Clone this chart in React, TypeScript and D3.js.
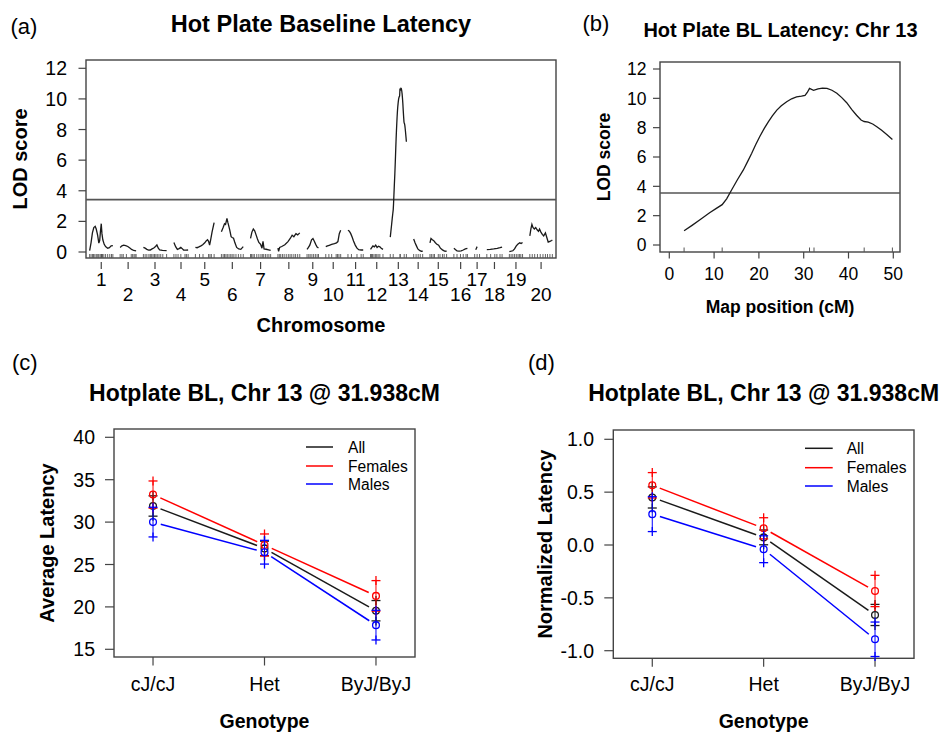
import React from "react";
import * as d3 from "d3";

// ---------------- Panel (a) / (b) data ----------------
const chromosomeNames = ["1","2","3","4","5","6","7","8","9","10","11","12","13","14","15","16","17","18","19","20"];
const chrLengthsCM = [67, 46, 67, 41, 54, 63, 58, 63, 33, 43, 44, 36, 46.5, 26, 48, 39, 14, 44, 38, 65];
const chrFirstPosCM = [0,0,0,0,0,0,0,0,0,0,0,0,3.3,0,0,0,0,0,0,0];
const chrGapCM = 21;
const lodTicks = [0, 2, 4, 6, 8, 10, 12];
const mapPositionTicks = [0, 10, 20, 30, 40, 50];
const genomeThreshold = 3.42;
const chr13Threshold = 3.55;

const chr1Lod = [[0,0.09],[4,0.6],[8,1.25],[12,1.6],[16,1.68],[19,1.5],[23,1.1],[26.5,0.58],[29,0.75],[31,1.3],[33.5,1.85],[35.5,1.2],[38,0.8],[42,0.5],[46,0.35],[52,0.25],[57,0.28],[62,0.4],[67,0.42]];
const chr2Lod = [[0,0.3],[5,0.4],[10,0.45],[16,0.42],[22,0.36],[28,0.26],[33,0.17],[39,0.1],[46,0.08]];
const chr3Lod = [[0,0.3],[5,0.25],[10,0.17],[15,0.12],[20,0.13],[25,0.2],[30,0.26],[35,0.36],[39,0.46],[43,0.25],[47,0.13],[55,0.1],[67,0.09]];
const chr4Lod = [[0,0.62],[5,0.35],[10,0.17],[15,0.22],[20,0.3],[24,0.22],[28,0.13],[35,0.12],[41,0.13]];
const chr5Lod = [[0,0.3],[5,0.28],[10,0.33],[16,0.4],[21,0.47],[27,0.6],[31,0.72],[35,0.8],[38,0.7],[41,0.45],[44,0.8],[48,1.3],[54,1.92]];
const chr6Lod = [[0,1.33],[5,1.6],[9,1.85],[12,1.8],[16,2.2],[19,1.9],[24,1.45],[28,1.0],[31,0.95],[35,0.9],[39,0.6],[44,0.3],[50,0.2],[56,0.17],[63,0.35]];
const chr7Lod = [[0,0.89],[4,1.3],[8,1.5],[12,1.38],[16,1.12],[20,0.85],[24,0.62],[29,0.5],[33,0.25],[36,0.7],[39,0.2],[45,0.18],[52,0.14],[58,0.1]];
const chr8Lod = [[0,0.25],[2,0.05],[5,0.3],[11,0.36],[20,0.47],[29,0.68],[36,0.9],[41,1.1],[46,1.0],[52,1.2],[57,1.12],[63,1.25]];
const chr9Lod = [[0,0.17],[4,0.3],[8,0.45],[13,0.8],[17,0.88],[21,0.7],[25,0.5],[29,0.32],[33,0.26]];
const chr10Lod = [[0,0.35],[5,0.4],[10,0.44],[17,0.5],[25,0.55],[31,0.6],[35,0.68],[39,1.2],[43,1.42]];
const chr11Lod = [[0,1.42],[4,1.36],[8,1.2],[12,0.98],[16,0.72],[21,0.45],[26,0.25],[31,0.15],[38,0.13],[44,0.13]];
const chr12Lod = [[0,0.17],[4,0.3],[7,0.4],[11,0.34],[15,0.45],[19,0.3],[23,0.38],[27,0.34],[31,0.25],[36,0.17]];
const chr13Lod = [[3.3,0.97],[5,1.32],[7,1.75],[9,2.2],[10.5,2.5],[11.8,2.75],[12.8,3.15],[13.9,3.75],[15.2,4.45],[16.5,5.1],[17.5,5.7],[18.4,6.25],[19.3,6.85],[20.2,7.4],[21.2,7.95],[22.1,8.4],[23,8.8],[24,9.2],[25,9.5],[26.2,9.77],[27.3,9.97],[28.4,10.1],[29.5,10.15],[30.3,10.2],[30.8,10.4],[31.3,10.68],[32.2,10.55],[33.2,10.65],[34.2,10.7],[35.2,10.68],[36.3,10.55],[37.4,10.35],[38.5,10.05],[39.6,9.7],[40.7,9.25],[41.8,8.85],[42.8,8.52],[43.5,8.42],[44.4,8.38],[45.4,8.25],[46.4,8.05],[47.4,7.82],[48.6,7.52],[49.8,7.2]];
const chr14Lod = [[0,0.85],[4,0.6],[8,0.4],[12,0.2],[17,0.1],[22,0.05],[26,0.05]];
const chr15Lod = [[0,0.6],[3,0.88],[7,0.8],[11,0.74],[15,0.62],[20,0.5],[25,0.44],[30,0.25],[36,0.14],[42,0.06],[48,0.05]];
const chr16Lod = [[0,0.25],[5,0.15],[9,0.08],[15,0.06],[21,0.08],[27,0.13],[33,0.2],[39,0.24]];
const chr17Lod = [[3,0.15],[5,0.25],[7,0.35]];
const chr18Lod = [[0,0.15],[10,0.17],[20,0.2],[30,0.24],[38,0.28],[44,0.32]];
const chr19Lod = [[0,0.03],[5,0.05],[10,0.08],[15,0.2],[20,0.4],[25,0.52],[30,0.6],[34,0.55],[38,0.62]];
const chr20Lod = [[0,1.05],[3,1.5],[6,1.8],[9,1.6],[13,1.5],[17,1.6],[21,1.45],[25,1.35],[28,1.5],[32,1.3],[36,1.15],[40,1.05],[45,1.25],[49,0.95],[53,0.65],[58,0.7],[63,0.75],[65,0.78]];
const chrLodProfiles = [chr1Lod, chr2Lod, chr3Lod, chr4Lod, chr5Lod, chr6Lod, chr7Lod, chr8Lod, chr9Lod, chr10Lod, chr11Lod, chr12Lod, chr13Lod, chr14Lod, chr15Lod, chr16Lod, chr17Lod, chr18Lod, chr19Lod, chr20Lod];

const chrMarkersCM = [
  [0,4,8,11,15,19,22,26,30,33,34,35,37,41,46,52,58,63,67],
  [0,5,9,18,32,36,40,43,46],
  [0,5,10,16,20,24,28,32,36,40,45,50,56,67],
  [0,6,12,20,32,36,41],
  [0,12,22,38,42,46,54],
  [0,5,9,13,17,22,27,31,36,42,49,56,63],
  [0,3,7,11,18,24,30,34,38,43,48,53,58],
  [0,4,8,13,18,24,30,35,40,46,51,57,63],
  [0,5,9,14,19,24,29,33],
  [0,9,17,30,34,38,43],
  [0,10,26,38,44],
  [0,3,6,10,14,18,22,27,36],
  [3.3,11.8,31.3,32.3,43.5,49.8],
  [0,7,13,19,26],
  [0,4,9,13,24,29,36,41,48],
  [0,9,19,27,35,39],
  [0,7,14],
  [0,11,23,29,38,44],
  [0,5,10,15,20,25,29,33,38],
  [0,7,14,22,30,38,45,51,58,65]
];

// ---------------- Panel (c) / (d) data ----------------
const genotypes = ["cJ/cJ", "Het", "ByJ/ByJ"];
const seriesNames = ["All", "Females", "Males"];
const latencyTicks = [15, 20, 25, 30, 35, 40];
const latencyAllMean = [31.9, 26.9, 19.55];
const latencyAllSE = [1.2, 0.85, 1.2];
const latencyFemaleMean = [33.25, 27.3, 21.3];
const latencyFemaleSE = [1.6, 1.3, 1.8];
const latencyMaleMean = [30.0, 26.45, 17.85];
const latencyMaleSE = [1.75, 1.4, 1.75];
const normTicks = [-1, -0.5, 0, 0.5, 1];
const normAllMean = [0.45, 0.072, -0.662];
const normAllSE = [0.1, 0.07, 0.1];
const normFemaleMean = [0.565, 0.158, -0.435];
const normFemaleSE = [0.12, 0.1, 0.148];
const normMaleMean = [0.292, -0.04, -0.892];
const normMaleSE = [0.165, 0.127, 0.163];

const seriesColors = ["#1a1a1a", "#ff0000", "#0000ff"];
const FONT = "'Liberation Sans', Arial, Helvetica, sans-serif";
const AXIS = "#444";

function EffectPanel(props: any) {
  const { left, right, top, bottom, yDomain, yRange, ticks, fmt, means, ses, title, ylab, tag, tagX, ylabX, tickRight, legLine, legText, legRows } = props;
  const x = d3.scalePoint<string>().domain(genotypes).range([left, right]).padding(0.35);
  const y = d3.scaleLinear().domain(yDomain).range(yRange);
  const cx = (left + right) / 2;
  const cy = (top + bottom) / 2;
  const gap = 8;
  const fs = 19.5;
  return (
    <g>
      <text x={tagX} y={370} fontSize={22}>{tag}</text>
      <text x={cx} y={400.5} textAnchor="middle" fontWeight="bold" fontSize={23}>{title}</text>
      <rect x={left} y={top} width={right - left} height={bottom - top} fill="none" stroke={AXIS} strokeWidth={1.4} />
      {ticks.map((t: number) => (
        <g key={t}>
          <line x1={left - 9} x2={left} y1={y(t)} y2={y(t)} stroke={AXIS} strokeWidth={1.2} />
          <text x={tickRight} y={y(t)} dy="0.36em" textAnchor="end" fontSize={fs}>{fmt(t)}</text>
        </g>
      ))}
      {genotypes.map((g) => (
        <g key={g}>
          <line x1={x(g)} x2={x(g)} y1={bottom} y2={bottom + 8.5} stroke={AXIS} strokeWidth={1.2} />
          <text x={x(g)} y={691} textAnchor="middle" fontSize={fs}>{g}</text>
        </g>
      ))}
      <text x={cx} y={728} textAnchor="middle" fontWeight="bold" fontSize={fs}>Genotype</text>
      <text transform={`translate(${ylabX},${cy}) rotate(-90)`} textAnchor="middle" fontWeight="bold" fontSize={20}>{ylab}</text>
      {seriesNames.map((s, si) => {
        const col = seriesColors[si];
        const m = means[si];
        const se = ses[si];
        const segs = genotypes.slice(0, -1).map((g, gi) => {
          const x1 = x(g) as number, y1 = y(m[gi]);
          const x2 = x(genotypes[gi + 1]) as number, y2 = y(m[gi + 1]);
          const L = Math.hypot(x2 - x1, y2 - y1);
          const ux = (x2 - x1) / L, uy = (y2 - y1) / L;
          return [x1 + ux * gap, y1 + uy * gap, x2 - ux * gap, y2 - uy * gap];
        });
        return (
          <g key={s}>
            {segs.map((sg, k) => (
              <line key={k} x1={sg[0]} y1={sg[1]} x2={sg[2]} y2={sg[3]} stroke={col} strokeWidth={1.5} />
            ))}
            {genotypes.map((g, gi) => {
              const px = x(g) as number;
              const yu = y(m[gi] + se[gi]);
              const yl = y(m[gi] - se[gi]);
              const ym = y(m[gi]);
              const h = 4.5;
              return (
                <g key={g}>
                  <line x1={px} x2={px} y1={yu} y2={yl} stroke={col} strokeWidth={1} />
                  <line x1={px - h} x2={px + h} y1={yu} y2={yu} stroke={col} strokeWidth={1.3} />
                  <line x1={px} x2={px} y1={yu - h} y2={yu + h} stroke={col} strokeWidth={1.3} />
                  <line x1={px - h} x2={px + h} y1={yl} y2={yl} stroke={col} strokeWidth={1.3} />
                  <line x1={px} x2={px} y1={yl - h} y2={yl + h} stroke={col} strokeWidth={1.3} />
                  <circle cx={px} cy={ym} r={3.4} fill="none" stroke={col} strokeWidth={1.3} />
                </g>
              );
            })}
          </g>
        );
      })}
      {seriesNames.map((s, si) => (
        <g key={"leg" + s}>
          <line x1={legLine[0]} x2={legLine[1]} y1={legRows[si]} y2={legRows[si]} stroke={seriesColors[si]} strokeWidth={1.5} />
          <text x={legText} y={legRows[si]} dy="0.36em" fontSize={15.6}>{s}</text>
        </g>
      ))}
    </g>
  );
}

export default function App() {
  // ----- panel (a) layout -----
  const starts: number[] = [];
  let acc = chrGapCM / 2;
  chrLengthsCM.forEach((len) => {
    starts.push(acc);
    acc += len + chrGapCM;
  });
  const totalCM = acc - chrGapCM / 2;
  const aL = 86, aR = 556, aT = 60, aB = 258;
  const xA = d3.scaleLinear().domain([0, totalCM]).range([aL, aR]);
  const yA = d3.scaleLinear().domain([0, 12]).range([252, 68.3]);
  const lineFor = (i: number) =>
    d3.line<number[]>()
      .x((d) => xA(starts[i] + d[0] - chrFirstPosCM[i]))
      .y((d) => yA(d[1]));

  // ----- panel (b) layout -----
  const bL = 660, bR = 900, bT = 62, bB = 252;
  const xB = d3.scaleLinear().domain([0, 50]).range([669.3, 893.3]);
  const yB = d3.scaleLinear().domain([0, 12]).range([245, 69]);
  const lineB = d3.line<number[]>().x((d) => xB(d[0])).y((d) => yB(d[1]));

  return (
    <svg width={940} height={732} style={{ position: "absolute", left: 0, top: 0, background: "#fff" }} fontFamily={FONT}>
      <rect x={0} y={0} width={940} height={732} fill="#fff" />
      {/* ================= (a) ================= */}
      <text x={10.5} y={33.5} fontSize={22}>(a)</text>
      <text x={(aL + aR) / 2} y={32} textAnchor="middle" fontWeight="bold" fontSize={23.5}>Hot Plate Baseline Latency</text>
      <rect x={aL} y={aT} width={aR - aL} height={aB - aT} fill="none" stroke={AXIS} strokeWidth={1.4} />
      {lodTicks.map((t) => (
        <g key={"ya" + t}>
          <line x1={78.5} x2={aL} y1={yA(t)} y2={yA(t)} stroke={AXIS} strokeWidth={1.2} />
          <text x={67} y={yA(t)} dy="0.36em" textAnchor="end" fontSize={19.5}>{t}</text>
        </g>
      ))}
      <line x1={aL} x2={aR} y1={yA(genomeThreshold)} y2={yA(genomeThreshold)} stroke="#555" strokeWidth={1.6} />
      {chrLodProfiles.map((prof, i) => (
        <path key={"c" + i} d={lineFor(i)(prof) as string} fill="none" stroke="#1a1a1a" strokeWidth={1.3} />
      ))}
      {chrMarkersCM.map((ms, i) =>
        ms.map((m, k) => {
          const px = xA(starts[i] + m - chrFirstPosCM[i]);
          return <line key={"r" + i + "-" + k} x1={px} x2={px} y1={aB - 4} y2={aB} stroke="#555" strokeWidth={0.9} />;
        })
      )}
      {chromosomeNames.map((c, i) => {
        const mid = xA(starts[i] + chrLengthsCM[i] / 2);
        return (
          <g key={"xa" + c}>
            <line x1={mid} x2={mid} y1={262} y2={269} stroke={AXIS} strokeWidth={1.2} />
            <text x={mid} y={i % 2 === 0 ? 286 : 301} textAnchor="middle" fontSize={19}>{c}</text>
          </g>
        );
      })}
      <text x={(aL + aR) / 2} y={331.5} textAnchor="middle" fontWeight="bold" fontSize={20}>Chromosome</text>
      <text transform={`translate(26.5,${(aT + aB) / 2}) rotate(-90)`} textAnchor="middle" fontWeight="bold" fontSize={20}>LOD score</text>

      {/* ================= (b) ================= */}
      <text x={582.5} y={30.5} fontSize={22}>(b)</text>
      <text x={780.5} y={37} textAnchor="middle" fontWeight="bold" fontSize={20}>Hot Plate BL Latency: Chr 13</text>
      <rect x={bL} y={bT} width={bR - bL} height={bB - bT} fill="none" stroke={AXIS} strokeWidth={1.4} />
      {lodTicks.map((t) => (
        <g key={"yb" + t}>
          <line x1={653} x2={bL} y1={yB(t)} y2={yB(t)} stroke={AXIS} strokeWidth={1.2} />
          <text x={646.5} y={yB(t)} dy="0.36em" textAnchor="end" fontSize={17.5}>{t}</text>
        </g>
      ))}
      {mapPositionTicks.map((t) => (
        <g key={"xb" + t}>
          <line x1={xB(t)} x2={xB(t)} y1={bB} y2={bB + 6.5} stroke={AXIS} strokeWidth={1.2} />
          <text x={xB(t)} y={280} textAnchor="middle" fontSize={17.5}>{t}</text>
        </g>
      ))}
      <line x1={bL} x2={bR} y1={yB(chr13Threshold)} y2={yB(chr13Threshold)} stroke="#555" strokeWidth={1.4} />
      <path d={lineB(chr13Lod) as string} fill="none" stroke="#1a1a1a" strokeWidth={1.3} />
      {chrMarkersCM[12].map((m, k) => (
        <line key={"rb" + k} x1={xB(m)} x2={xB(m)} y1={bB - 4.5} y2={bB} stroke="#555" strokeWidth={1} />
      ))}
      <text x={780} y={312.5} textAnchor="middle" fontWeight="bold" fontSize={17.5}>Map position (cM)</text>
      <text transform={`translate(609.5,${(bT + bB) / 2}) rotate(-90)`} textAnchor="middle" fontWeight="bold" fontSize={17.5}>LOD score</text>

      {/* ================= (c) ================= */}
      <EffectPanel
        left={114} right={415} top={429} bottom={657}
        yDomain={[15, 40]} yRange={[649.3, 437.3]}
        ticks={latencyTicks} fmt={(t: number) => String(t)}
        means={[latencyAllMean, latencyFemaleMean, latencyMaleMean]}
        ses={[latencyAllSE, latencyFemaleSE, latencyMaleSE]}
        title="Hotplate BL, Chr 13 @ 31.938cM" ylab="Average Latency"
        tag="(c)" tagX={12} ylabX={54} tickRight={95}
        legLine={[306, 333]} legText={348} legRows={[447, 466, 484]}
      />
      {/* ================= (d) ================= */}
      <EffectPanel
        left={613.3} right={914} top={430} bottom={658.3}
        yDomain={[-1, 1]} yRange={[650.7, 439.3]}
        ticks={normTicks} fmt={(t: number) => t.toFixed(1)}
        means={[normAllMean, normFemaleMean, normMaleMean]}
        ses={[normAllSE, normFemaleSE, normMaleSE]}
        title="Hotplate BL, Chr 13 @ 31.938cM" ylab="Normalized Latency"
        tag="(d)" tagX={528} ylabX={552} tickRight={594}
        legLine={[805, 832.7]} legText={846.7} legRows={[448.3, 467.7, 486]}
      />
    </svg>
  );
}
